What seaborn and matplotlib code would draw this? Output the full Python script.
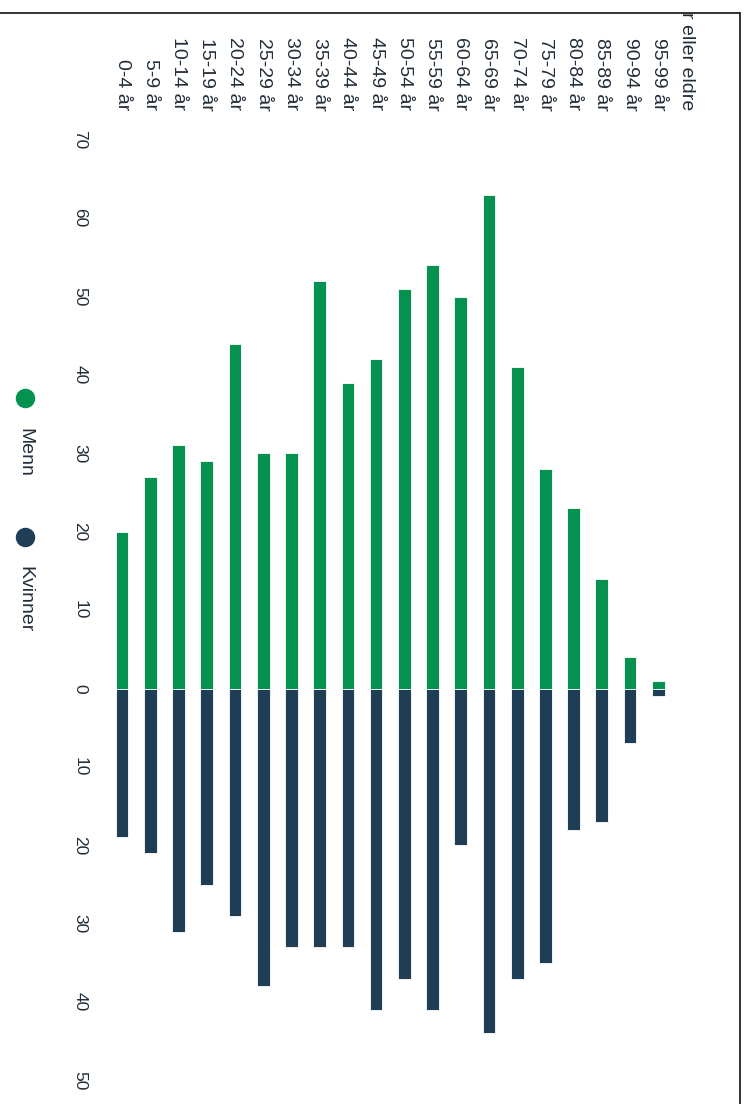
import numpy as np
import pandas as pd
import seaborn as sns
import matplotlib.pyplot as plt
from matplotlib.lines import Line2D
from matplotlib.patches import Rectangle

# Aldersgrupper og antall personer
alder = ['0-4 år', '5-9 år', '10-14 år', '15-19 år', '20-24 år', '25-29 år',
         '30-34 år', '35-39 år', '40-44 år', '45-49 år', '50-54 år', '55-59 år',
         '60-64 år', '65-69 år', '70-74 år', '75-79 år', '80-84 år', '85-89 år',
         '90-94 år', '95-99 år', '100 år eller eldre']
menn = [20, 27, 31, 29, 44, 30, 30, 52, 39, 42, 51, 54, 50, 63, 41, 28, 23, 14, 4, 1, 0]
kvinner = [19, 21, 31, 25, 29, 38, 33, 33, 33, 41, 37, 41, 20, 44, 37, 35, 18, 17, 7, 1, 0]
verdi_ticks = [-50, -40, -30, -20, -10, 0, 10, 20, 30, 40, 50, 60, 70]

GRONN = '#05914f'
MORK = '#1f3e55'
TEKST = '#222d3a'

df = pd.DataFrame({'alder': alder, 'Menn': menn, 'Kvinner': [-v for v in kvinner]})

sns.set_style('white')
plt.rcParams['font.family'] = ['Liberation Sans', 'DejaVu Sans']

W, H = 749, 1104
fig = plt.figure(figsize=(W / 100, H / 100), dpi=100)
ax = fig.add_axes([108 / W, 1 - 1080.5 / H, (700.6 - 108) / W, (1080.5 - 139.7) / H])

# Menn oppover, kvinner nedover
sns.barplot(data=df, x='alder', y='Menn', order=alder, color=GRONN, saturation=1,
            width=0.45, edgecolor='white', linewidth=0.6, ax=ax)
sns.barplot(data=df, x='alder', y='Kvinner', order=alder, color=MORK, saturation=1,
            width=0.45, edgecolor='white', linewidth=0.6, ax=ax)

ax.set_xlim(-0.5, len(alder) - 0.5)
ax.set_ylim(-50, 70)
ax.set_xlabel('')
ax.set_ylabel('')

# Kategorier øverst, lest ovenfra og ned
ax.xaxis.tick_top()
ax.set_xticks(range(len(alder)))
ax.set_xticklabels(alder, rotation=-90, fontsize=14, color=TEKST)
ax.tick_params(axis='x', length=0, pad=21)

ax.set_yticks(verdi_ticks)
ax.set_yticklabels([str(abs(t)) for t in verdi_ticks], rotation=-90, fontsize=12.5,
                   color=TEKST, va='center')
ax.tick_params(axis='y', length=0, pad=15)
sns.despine(ax=ax, left=True, bottom=True, top=True, right=True)

# Forklaring (legend) til venstre, rotert
for y_dot, y_txt, farge, navn in [(398, 428, GRONN, 'Menn'), (537, 566, MORK, 'Kvinner')]:
    fig.add_artist(Line2D([25 / W], [1 - y_dot / H], marker='o', markersize=13,
                          color=farge, linestyle='none', transform=fig.transFigure))
    fig.text(25 / W, 1 - y_txt / H, navn, rotation=-90, ha='center', va='top',
             fontsize=14, color=TEKST)

# Kant fra skannet side
fig.add_artist(Rectangle((0, 1 - 12 / H), 1, 12 / H, transform=fig.transFigure,
                         facecolor='white', edgecolor='none', zorder=10))
fig.add_artist(Line2D([0, 740 / W], [1 - 12.5 / H, 1 - 12.5 / H], color='#222222',
                      linewidth=1.3, transform=fig.transFigure, zorder=11))
fig.add_artist(Line2D([740 / W, 740 / W], [1 - 12.5 / H, 0], color='#222222',
                      linewidth=1.3, transform=fig.transFigure, zorder=11))

fig.savefig('out.png', dpi=100)
